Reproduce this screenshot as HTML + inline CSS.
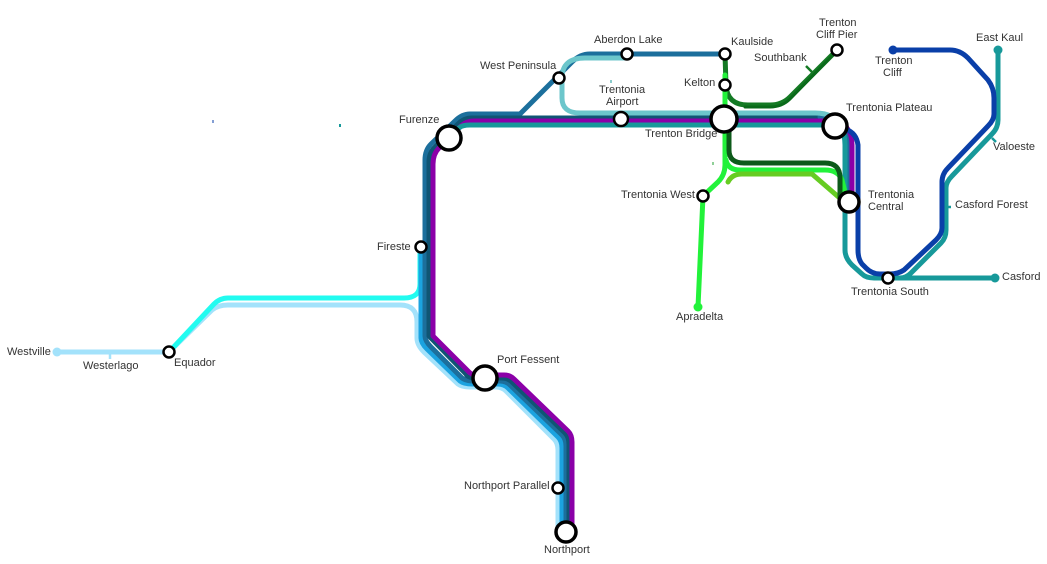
<!DOCTYPE html>
<html><head><meta charset="utf-8"><style>
html,body{margin:0;padding:0;background:#fff;}
svg{display:block;}
text{font-family:"Liberation Sans",sans-serif;font-size:11px;fill:#333;}
</style></head><body>
<svg width="1047" height="564" viewBox="0 0 1047 564" xmlns="http://www.w3.org/2000/svg">
<g fill="none" stroke-linecap="round" stroke-linejoin="round" stroke-width="5">
<path stroke="#a3e2fb" d="M57 352 L169 352 L212 310 Q218 305 228 305 L400 305 Q417 305 417 322 L417 338 Q417 345 424 352 L458 384 Q462 387 470 387 L496 387 Q502 387 506 391 L554 439 Q558 443 558 450 L558 532"/>
<path stroke="#22fbf0" d="M420 247 L420 284 Q420 298 404 298 L228 298 Q220 298 214 304 L169 352"/>
<path stroke="#1ba3e0" d="M421 247 L421 338 Q421 343 427 349 L460 381 Q464 384 472 384 L498 384 Q504 384 508 388 L558 437 Q562 441 562 448 L562 532"/>
<path stroke="#1c6f9c" d="M725 54 L590 54 Q580 54 572 62 L520 114 L470 114 Q462 114 455 121 L431 144 Q425 150 425 160 L425 336 Q425 341 431 347 L462 378 Q466 381 474 381 L500 381 Q506 381 510 385 L562 435 Q566 439 566 446 L566 532"/>
<path stroke="#0f5574" d="M835 126 L825 118 L472 118 Q464 118 458 124 L435 147 Q429 153 429 162 L429 336 L466 374 Q468 378 476 378 L502 378 Q508 378 512 382 L565 433 Q569 437 569 444 L569 532"/>
<path stroke="#1c6f9c" d="M820 117 Q848 117 848 145 L848 202"/>
<path stroke="#8b00a8" d="M849 202 L852 202 L852 145 Q852 121 828 121 L474 121 Q466 121 460 127 L439 148 Q433 154 433 164 L433 336 L468 371 Q471 375 478 375 L504 375 Q510 375 514 379 L568 431 Q572 435 572 442 L572 532"/>
<path stroke="#6cc6cb" d="M627 58 L585 58 Q562 58 562 78 L562 98 Q562 113 580 113 L815 113 Q835 113 838 126"/>
<path stroke="#17999a" d="M449 138 L459 128 Q462 125 470 125 L830 125 Q845 125 845 145 L845 250 Q845 258 852 265 L862 274 Q866 278 874 278 L995 278"/>
<path stroke="#17999a" d="M888 278 L900 278 Q906 278 911 273 L941 243 Q946 238 946 230 L946 188 Q946 182 952 176 L992 134 Q998 128 998 120 L998 50"/>
<path stroke="#0a3fa8" d="M893 50 L950 50 Q960 50 968 58 L988 80 Q994 88 994 98 L994 114 Q994 120 988 126 L948 168 Q942 174 942 182 L942 228 Q942 234 936 240 L904 270 Q898 274 890 274 L880 274 Q872 274 866 268 L862 264 Q858 259 858 250 L858 145 Q856 130 840 128"/>
<path stroke="#147a24" d="M837 50 L790 97 Q782 105 770 105 L748 105 Q727 105 726 85 L725 54"/>
<path stroke="#0a6a1a" stroke-width="3" d="M836 52 L790 99 Q782 107 770 107 L745 107"/>
<path stroke="#22f23a" d="M725 75 L725 165 Q725 175 718 182 L703 196 L698 307"/>
<path stroke="#22f23a" d="M726 160 Q728 170 740 170 L825 170 Q838 170 842 180 L846 196"/>
<path stroke="#66cc22" d="M728 182 Q732 174 742 174 L812 174 L842 200"/>
<path stroke="#0d5a1a" d="M729 119 L729 150 Q729 163 744 163 L825 163 Q840 163 840 178 L840 200"/>
</g>
<g stroke-width="2.5" fill="none">
<line x1="110" y1="352" x2="110" y2="359" stroke="#a3e2fb"/>
<line x1="806" y1="66" x2="812" y2="72" stroke="#147a24"/>
<line x1="992" y1="138" x2="996" y2="142" stroke="#17999a"/>
<line x1="946" y1="207" x2="951" y2="207" stroke="#17999a"/>
<line x1="213" y1="120" x2="213" y2="123" stroke="#0a3fa8" stroke-width="1"/>
<line x1="340" y1="124" x2="340" y2="127" stroke="#17999a" stroke-width="2"/>
<line x1="611" y1="80" x2="611" y2="83" stroke="#17999a" stroke-width="1"/>
<line x1="713" y1="162" x2="713" y2="165" stroke="#22a030" stroke-width="1"/>
</g>
<circle cx="57" cy="352" r="4.5" fill="#a3e2fb"/>
<circle cx="893" cy="50" r="4.5" fill="#0a3fa8"/>
<circle cx="998" cy="50" r="4.5" fill="#17999a"/>
<circle cx="995" cy="278" r="4.5" fill="#17999a"/>
<circle cx="698" cy="307" r="4.5" fill="#22f23a"/>
<g fill="#fff" stroke="#000">
<g stroke-width="3.5">
<circle cx="449" cy="138" r="12"/>
<circle cx="724" cy="119" r="13"/>
<circle cx="835" cy="126" r="12"/>
<circle cx="485" cy="378" r="12"/>
<circle cx="566" cy="532" r="10"/>
<circle cx="849" cy="202" r="10"/>
</g>
<g stroke-width="2.5">
<circle cx="627" cy="54" r="5.5"/>
<circle cx="725" cy="54" r="5.5"/>
<circle cx="725" cy="85" r="5.5"/>
<circle cx="559" cy="78" r="5.5"/>
<circle cx="621" cy="119" r="7"/>
<circle cx="837" cy="50" r="5.5"/>
<circle cx="703" cy="196" r="5.5"/>
<circle cx="421" cy="247" r="5.5"/>
<circle cx="169" cy="352" r="5.5"/>
<circle cx="558" cy="488" r="5.5"/>
<circle cx="888" cy="278" r="5.5"/>
</g>
</g>
<text x="7" y="355">Westville</text>
<text x="83" y="369">Westerlago</text>
<text x="174" y="366">Equador</text>
<text x="377" y="250">Fireste</text>
<text x="399" y="123">Furenze</text>
<text x="480" y="69">West Peninsula</text>
<text x="594" y="43">Aberdon Lake</text>
<text x="599" y="93">Trentonia</text>
<text x="606" y="105">Airport</text>
<text x="731" y="45">Kaulside</text>
<text x="684" y="86">Kelton</text>
<text x="645" y="137">Trenton Bridge</text>
<text x="754" y="61">Southbank</text>
<text x="819" y="26">Trenton</text>
<text x="816" y="38">Cliff Pier</text>
<text x="846" y="111">Trentonia Plateau</text>
<text x="875" y="64">Trenton</text>
<text x="883" y="76">Cliff</text>
<text x="976" y="41">East Kaul</text>
<text x="993" y="150">Valoeste</text>
<text x="955" y="208">Casford Forest</text>
<text x="868" y="198">Trentonia</text>
<text x="868" y="210">Central</text>
<text x="1002" y="280">Casford</text>
<text x="851" y="295">Trentonia South</text>
<text x="621" y="198">Trentonia West</text>
<text x="676" y="320">Apradelta</text>
<text x="497" y="363">Port Fessent</text>
<text x="464" y="489">Northport Parallel</text>
<text x="544" y="553">Northport</text>
</svg>
</body></html>
